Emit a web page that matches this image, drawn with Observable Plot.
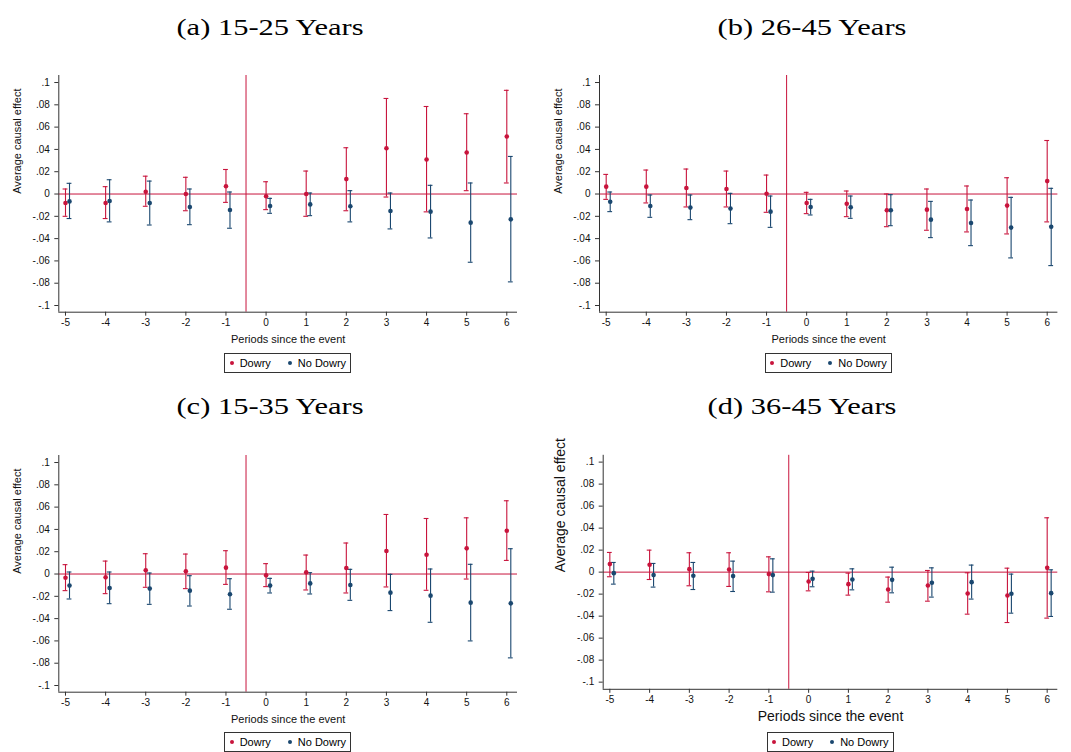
<!DOCTYPE html>
<html><head><meta charset="utf-8">
<script src="https://cdn.jsdelivr.net/npm/d3@7"></script>
<script src="https://cdn.jsdelivr.net/npm/@observablehq/plot@0.6"></script>
<style>
body{margin:0;background:#fff;}
#root{position:relative;width:1071px;height:752px;overflow:hidden;background:#fff;font-family:"Liberation Sans",Arial,sans-serif;}
.title{position:absolute;width:400px;text-align:center;font-family:"Liberation Serif","Times New Roman",serif;font-size:24px;line-height:24px;white-space:nowrap;color:#000;transform:scaleX(1.27);transform-origin:center;}
.panel{position:absolute;}
.legend{position:absolute;border:1px solid #333;height:20px;width:127px;box-sizing:border-box;font-size:11px;display:flex;align-items:center;padding-left:4.5px;white-space:nowrap;color:#000;font-family:"Liberation Sans",Arial,sans-serif;}
.legend .dot{display:inline-block;width:4px;height:4px;border-radius:50%;margin-right:6px;}
.legend .item{display:flex;align-items:center;}
</style></head><body><div id="root"></div>
<script>
// ---- data ----
const periods = [-5, -4, -3, -2, -1, 0, 1, 2, 3, 4, 5, 6];
const yTicks = [0.1, 0.08, 0.06, 0.04, 0.02, 0, -0.02, -0.04, -0.06, -0.08, -0.1];
const yTickLabels = [".1", ".08", ".06", ".04", ".02", "0", "-.02", "-.04", "-.06", "-.08", "-.1"];
const seriesNames = ["Dowry", "No Dowry"];
const seriesShift = [0, 0.1];
const panelTitles = ["(a) 15-25 Years", "(b) 26-45 Years", "(c) 15-35 Years", "(d) 36-45 Years"];
const xLabel = "Periods since the event";
const yLabel = "Average causal effect";
const eventLine = [-0.5];
const zeroLine = [0];

// [estimate, lower, upper] per period
const aDowry = [
  [-0.008, -0.020, 0.0045], [-0.008, -0.022, 0.0066], [0.002, -0.011, 0.016], [0.000, -0.015, 0.015],
  [0.007, -0.0075, 0.022], [-0.002, -0.014, 0.011], [0.000, -0.020, 0.0206], [0.0134, -0.015, 0.0415],
  [0.041, -0.0027, 0.0857], [0.031, -0.016, 0.0785], [0.0373, 0.003, 0.072], [0.0516, 0.0099, 0.093]];
const aNoDowry = [
  [-0.0066, -0.022, 0.0096], [-0.0063, -0.025, 0.0128], [-0.008, -0.0278, 0.0116], [-0.0116, -0.0275, 0.0045],
  [-0.0143, -0.0307, 0.0018], [-0.0107, -0.0173, -0.0039], [-0.0093, -0.0194, 0.0009], [-0.011, -0.025, 0.003],
  [-0.0152, -0.0313, 0.0009], [-0.0158, -0.0394, 0.0078], [-0.0257, -0.0612, 0.0099], [-0.0227, -0.0788, 0.0337]];
const bDowry = [
  [0.0066, -0.0048, 0.0176], [0.0066, -0.008, 0.0215], [0.0054, -0.0116, 0.0224], [0.0045, -0.0116, 0.0206],
  [0.0003, -0.0164, 0.017], [-0.008, -0.0176, 0.0015], [-0.0087, -0.0203, 0.0027], [-0.0146, -0.0293, 0.0],
  [-0.014, -0.0325, 0.0045], [-0.0134, -0.034, 0.0072], [-0.0104, -0.0358, 0.0146], [0.0116, -0.025, 0.048]];
const bNoDowry = [
  [-0.0069, -0.0158, 0.0018], [-0.0107, -0.0209, -0.0009], [-0.0122, -0.023, -0.0009], [-0.0131, -0.0266, 0.0006],
  [-0.0158, -0.0299, -0.0018], [-0.0116, -0.0188, -0.0048], [-0.0119, -0.0218, -0.0018], [-0.0146, -0.0284, -0.0006],
  [-0.023, -0.0391, -0.0066], [-0.026, -0.0463, -0.0054], [-0.0301, -0.0573, -0.003], [-0.0293, -0.0642, 0.0051]];
const cDowry = [
  [-0.0033, -0.0149, 0.0084], [-0.003, -0.0176, 0.0116], [0.0033, -0.0119, 0.0182], [0.0024, -0.0131, 0.0179],
  [0.0057, -0.0093, 0.0209], [-0.0012, -0.0113, 0.0093], [0.0015, -0.0143, 0.017], [0.0054, -0.017, 0.0278],
  [0.0206, -0.0116, 0.0534], [0.0173, -0.0146, 0.0498], [0.023, -0.0045, 0.0504], [0.0388, 0.0122, 0.0657]];
const cNoDowry = [
  [-0.0104, -0.0224, 0.0018], [-0.0125, -0.0266, 0.0018], [-0.0131, -0.0272, 0.0009], [-0.0149, -0.0287, -0.0015],
  [-0.0182, -0.0316, -0.0042], [-0.0104, -0.017, -0.0039], [-0.0084, -0.0179, 0.0012], [-0.0099, -0.0236, 0.0042],
  [-0.0167, -0.0328, -0.0003], [-0.0194, -0.0433, 0.0045], [-0.0257, -0.06, 0.0087], [-0.0263, -0.0752, 0.0227]];
const dDowry = [
  [0.0073, -0.0042, 0.0179], [0.0067, -0.0067, 0.02], [0.0027, -0.0124, 0.0176], [0.0024, -0.013, 0.0176],
  [-0.0018, -0.0179, 0.0139], [-0.0085, -0.017, -0.0003], [-0.0109, -0.0209, -0.0009], [-0.0158, -0.0273, -0.0045],
  [-0.0121, -0.0264, 0.0015], [-0.0194, -0.0382, -0.0006], [-0.0212, -0.0458, 0.0036], [0.0039, -0.0418, 0.0494]];
const dNoDowry = [
  [-0.0009, -0.0109, 0.0088], [-0.0027, -0.0136, 0.0079], [-0.0033, -0.0158, 0.0088], [-0.0036, -0.0176, 0.01],
  [-0.0027, -0.0182, 0.0121], [-0.0061, -0.0133, 0.0009], [-0.0067, -0.0161, 0.003], [-0.007, -0.0188, 0.0045],
  [-0.0097, -0.0227, 0.0039], [-0.0091, -0.0245, 0.0064], [-0.0197, -0.0373, -0.0018], [-0.0191, -0.0403, 0.0021]];

// ---- styling / layout ----
const seriesColors = ["#c8143c", "#1a476f"];
const axisColor = "#333";
const xDomain = [-5.167, 6.267];
const capHalf = 0.06;

const layout = [
  {left: 0,   top: 60,    width: 535, height: 300, mt: 15,   mb: 48.3, ml: 58.3, mr: 18,   yDomain: [-0.106, 0.1063], labelSize: 11, xDy: 27,   yDx: 41.6, titleX: 269.7, titleBase: 35,    legTop: 353, data: [aDowry, aNoDowry]},
  {left: 535, top: 60,    width: 536, height: 300, mt: 15,   mb: 48.3, ml: 64,   mr: 13.6, yDomain: [-0.106, 0.1063], labelSize: 11, xDy: 27,   yDx: 41.3, titleX: 811.7, titleBase: 35,    legTop: 353, data: [bDowry, bNoDowry]},
  {left: 0,   top: 439.5, width: 535, height: 300, mt: 15,   mb: 48.3, ml: 58.3, mr: 18,   yDomain: [-0.106, 0.1063], labelSize: 11, xDy: 27,   yDx: 41.6, titleX: 269.7, titleBase: 414.5, legTop: 732, data: [cDowry, cNoDowry]},
  {left: 535, top: 439.5, width: 536, height: 300, mt: 14.8, mb: 51.2, ml: 67.7, mr: 13.7, yDomain: [-0.1065, 0.1062], labelSize: 14, xDy: 27.7, yDx: 42.7, titleX: 801.7, titleBase: 414.5, legTop: 732, data: [dDowry, dNoDowry]}
];

const root = document.getElementById("root");

layout.forEach((cfg, p) => {
  const rows = [];
  cfg.data.forEach((vals, k) => vals.forEach((v, i) => rows.push({
    name: seriesNames[k], x: periods[i] + seriesShift[k], est: v[0], lo: v[1], hi: v[2]
  })));

  const chart = Plot.plot({
    width: cfg.width, height: cfg.height,
    marginLeft: cfg.ml, marginRight: cfg.mr, marginTop: cfg.mt, marginBottom: cfg.mb,
    x: {domain: xDomain},
    y: {domain: cfg.yDomain},
    color: {domain: seriesNames, range: seriesColors},
    style: {fontFamily: "'Liberation Sans', Arial, sans-serif", background: "transparent", color: "#111", overflow: "visible"},
    marks: [
      Plot.ruleY(zeroLine, {stroke: seriesColors[0], strokeWidth: 1}),
      Plot.ruleX(eventLine, {stroke: seriesColors[0], strokeWidth: 1}),
      Plot.ruleX(rows, {x: "x", y1: "lo", y2: "hi", stroke: "name", strokeWidth: 1.1}),
      Plot.ruleY(rows, {y: "lo", x1: d => d.x - capHalf, x2: d => d.x + capHalf, stroke: "name", strokeWidth: 1.1}),
      Plot.ruleY(rows, {y: "hi", x1: d => d.x - capHalf, x2: d => d.x + capHalf, stroke: "name", strokeWidth: 1.1}),
      Plot.dot(rows, {x: "x", y: "est", fill: "name", r: 2.3}),
      Plot.ruleX([xDomain[0]], {stroke: axisColor, strokeWidth: 1}),
      Plot.ruleY([cfg.yDomain[0]], {stroke: axisColor, strokeWidth: 1}),
      Plot.axisY({anchor: "left", ticks: yTicks, tickFormat: d => yTickLabels[yTicks.indexOf(d)], tickSize: 4, tickPadding: 5, fontSize: 10, label: null, stroke: axisColor}),
      Plot.axisX({anchor: "bottom", ticks: periods, tickFormat: d => String(d), tickSize: 4, tickPadding: 3, fontSize: 10, label: null, stroke: axisColor}),
      Plot.text([xLabel], {frameAnchor: "bottom", dy: cfg.xDy, lineAnchor: "middle", fontSize: cfg.labelSize, fill: "#111"}),
      Plot.text([yLabel], {frameAnchor: "left", dx: -cfg.yDx, rotate: -90, lineAnchor: "middle", fontSize: cfg.labelSize, fill: "#111"})
    ]
  });
  const holder = document.createElement("div");
  holder.className = "panel";
  holder.style.left = cfg.left + "px";
  holder.style.top = cfg.top + "px";
  holder.appendChild(chart);
  root.appendChild(holder);

  // title
  const t = document.createElement("div");
  t.className = "title";
  t.textContent = panelTitles[p];
  t.style.left = (cfg.titleX - 200) + "px";
  t.style.top = (cfg.titleBase - 20.1) + "px";
  root.appendChild(t);

  // legend (centered under the plot area)
  const plotCenter = cfg.left + cfg.ml + (cfg.width - cfg.ml - cfg.mr) / 2;
  const leg = document.createElement("div");
  leg.className = "legend";
  leg.style.left = (plotCenter - 63.5) + "px";
  leg.style.top = cfg.legTop + "px";
  seriesNames.forEach((n, k) => {
    const item = document.createElement("span");
    item.className = "item";
    if (k === 0) item.style.marginRight = "17px";
    const dot = document.createElement("span");
    dot.className = "dot";
    dot.style.background = seriesColors[k];
    const lab = document.createElement("span");
    lab.textContent = n;
    item.appendChild(dot);
    item.appendChild(lab);
    leg.appendChild(item);
  });
  root.appendChild(leg);
});
</script>
</body></html>
